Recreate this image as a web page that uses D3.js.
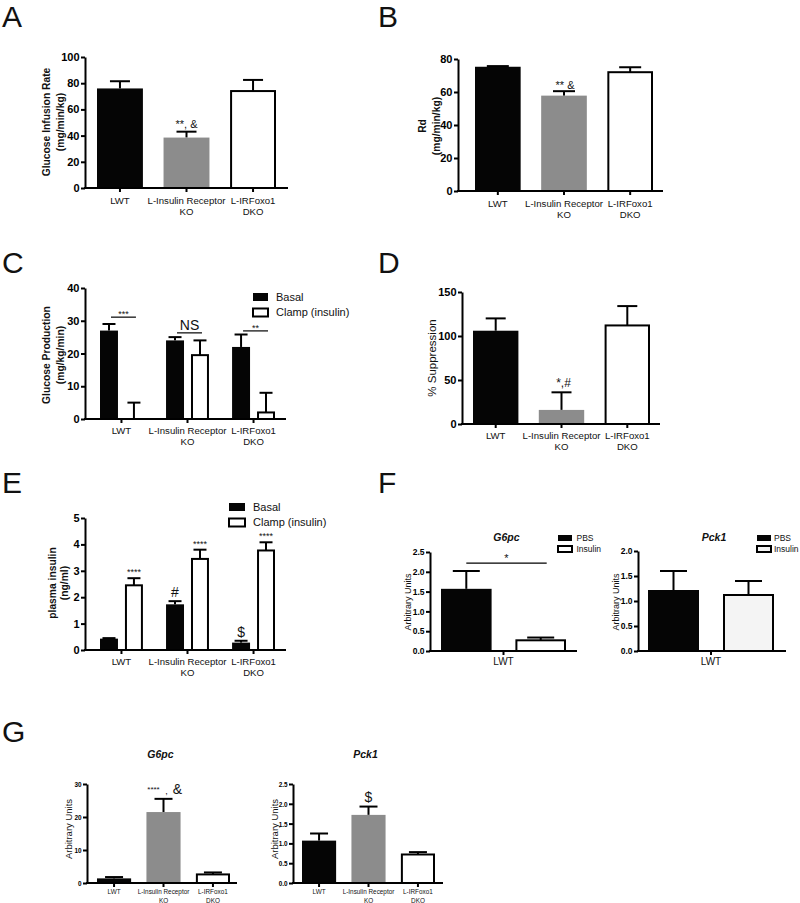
<!DOCTYPE html>
<html>
<head>
<meta charset="utf-8">
<script src="https://cdn.jsdelivr.net/npm/d3@7/dist/d3.min.js"></script>
<style>
  body { margin: 0; background: #fff; }
  svg { font-family: "Liberation Sans", Arial, sans-serif; }
</style>
</head>
<body>
<svg id="fig" width="800" height="903"></svg>
<script>
// ---- data ----
var groups = ['LWT', 'L-Insulin Receptor\nKO', 'L-IRFoxo1\nDKO'];
var conds = ['Basal', 'Clamp (insulin)'];
var treats = ['PBS', 'Insulin'];

var girMean = [76, 38.5, 74], girErr = [5.5, 4.5, 8.5];
var rdMean = [75.3, 57.8, 72], rdErr = [0.4, 2.7, 3];
var egpBasal = [27, 24, 22], egpBasalErr = [2, 1, 3.8];
var egpClamp = [0, 19.5, 2], egpClampErr = [5, 4.5, 6];
var suppMean = [106, 16, 112], suppErr = [14, 20, 22];
var insBasal = [0.43, 1.73, 0.28], insBasalErr = [0.02, 0.12, 0.07];
var insClamp = [2.45, 3.45, 3.77], insClampErr = [0.27, 0.35, 0.31];
var fG6pc = [1.57, 0.27], fG6pcErr = [0.45, 0.07];
var fPck1 = [1.22, 1.12], fPck1Err = [0.38, 0.28];
var gG6pc = [1.4, 21.5, 2.6], gG6pcErr = [0.4, 4, 0.6];
var gPck1 = [1.07, 1.72, 0.72], gPck1Err = [0.18, 0.21, 0.06];

var BLACK = '#050505', GRAY = '#8c8c8c', WHITE = '#fff';
var FONT = '"Liberation Sans", Arial, sans-serif';

var svg = d3.select('#fig');

function yaxis(y, x0, step, fmt, fs, sx) {
  var ticks = d3.range(0, y.domain()[1] + step / 2, step);
  var g = svg.append('g')
    .attr('transform', 'translate(' + x0 + ',0)')
    .call(d3.axisLeft(y).tickValues(ticks).tickFormat(fmt)
      .tickSize(4).tickSizeOuter(0).tickPadding(1.5));
  g.attr('font-family', FONT).attr('font-size', fs);
  g.select('.domain').attr('stroke', '#000').attr('stroke-width', 2);
  g.selectAll('.tick line').attr('stroke', '#000').attr('stroke-width', 2);
  var t = g.selectAll('.tick text').attr('font-weight', 'bold').attr('fill', '#000');
  if (sx) t.attr('transform', 'translate(-5.5,0) scale(' + sx + ',1) translate(5.5,0)');
}

function xaxis(x0, x1, y0, centers, labels, fs, dy, lh, sx) {
  svg.append('line').attr('x1', x0 - 1).attr('x2', x1).attr('y1', y0).attr('y2', y0)
    .attr('stroke', '#000').attr('stroke-width', 2);
  svg.selectAll(null).data(centers).enter().append('line')
    .attr('x1', function (d) { return d; }).attr('x2', function (d) { return d; })
    .attr('y1', y0).attr('y2', y0 + 4)
    .attr('stroke', '#000').attr('stroke-width', 2);
  var t = svg.selectAll(null).data(labels).enter().append('text')
    .attr('text-anchor', 'middle').attr('font-size', fs).attr('fill', '#111')
    .attr('transform', function (d, i) {
      return 'translate(' + centers[i] + ',' + (y0 + dy) + ') scale(' + (sx || 1) + ',1)';
    });
  t.selectAll('tspan').data(function (d) { return d.split('\n'); }).enter().append('tspan')
    .attr('x', 0).attr('y', function (d, i) { return i * lh; }).text(function (d) { return d; });
}

function bars(xs, bw, y, vals, errs, fills, capW) {
  var data = vals.map(function (v, i) { return { x: xs[i], v: v, e: errs[i], f: fills[i] }; });
  svg.selectAll(null).data(data).enter().append('line')
    .attr('x1', function (d) { return d.x + bw / 2; }).attr('x2', function (d) { return d.x + bw / 2; })
    .attr('y1', function (d) { return y(d.v); }).attr('y2', function (d) { return y(d.v + d.e); })
    .attr('stroke', '#000').attr('stroke-width', 2);
  svg.selectAll(null).data(data).enter().append('line')
    .attr('x1', function (d) { return d.x + bw / 2 - capW / 2; })
    .attr('x2', function (d) { return d.x + bw / 2 + capW / 2; })
    .attr('y1', function (d) { return y(d.v + d.e); }).attr('y2', function (d) { return y(d.v + d.e); })
    .attr('stroke', '#000').attr('stroke-width', 2);
  svg.selectAll(null).data(data).enter().append('rect')
    .attr('x', function (d) { return d.f === BLACK || d.f === GRAY ? d.x : d.x + 1; })
    .attr('width', function (d) { return d.f === BLACK || d.f === GRAY ? bw : bw - 2; })
    .attr('y', function (d) { return y(d.v); })
    .attr('height', function (d) { return Math.max(0, y(0) - y(d.v)); })
    .attr('fill', function (d) { return d.f; })
    .attr('stroke', function (d) { return d.f === BLACK || d.f === GRAY ? 'none' : '#000'; })
    .attr('stroke-width', 2);
}

function ytitle(lines, x, cy, fs, weight, gap) {
  lines.forEach(function (s, i) {
    svg.append('text').attr('transform', 'translate(' + (x + i * gap) + ',' + cy + ') rotate(-90)')
      .attr('text-anchor', 'middle').attr('font-size', fs).attr('font-weight', weight)
      .attr('fill', '#111').text(s);
  });
}

function label(s, x, y, fs, extra) {
  var t = svg.append('text').attr('x', x).attr('y', y).attr('font-size', fs)
    .attr('text-anchor', 'middle').attr('fill', '#111').text(s);
  if (extra) t.attr('font-weight', 'bold').attr('font-style', 'italic');
  return t;
}

function letter(s, x, y) {
  svg.append('text').attr('x', x).attr('y', y).attr('font-size', 30).attr('fill', '#111').text(s);
}

function legend(x, y, names, fills, fs, w, h, gap, tx) {
  names.forEach(function (n, i) {
    svg.append('rect').attr('x', x).attr('y', y + i * gap).attr('width', w).attr('height', h)
      .attr('fill', fills[i]).attr('stroke', '#000').attr('stroke-width', fills[i] === BLACK ? 0 : 2);
    svg.append('text').attr('x', x + w + tx).attr('y', y + i * gap + h / 2 + fs * 0.36)
      .attr('font-size', fs).attr('fill', '#111').text(n);
  });
}

function sigline(xa, xb, yy) {
  svg.append('line').attr('x1', xa).attr('x2', xb).attr('y1', yy).attr('y2', yy)
    .attr('stroke', '#000').attr('stroke-width', 1.2);
}

var grpFill = [BLACK, GRAY, WHITE];
var fmtInt = d3.format('d'), fmt1 = d3.format('.1f');

// ---- panel A ----
(function () {
  var y = d3.scaleLinear().domain([0, 100]).range([188, 57]);
  var x = d3.scaleBand().domain(groups).range([97, 276]).paddingInner(0.31);
  bars(groups.map(x), x.bandwidth(), y, girMean, girErr, grpFill, 20);
  yaxis(y, 85, 20, fmtInt, 11);
  xaxis(85, 288, y(0), groups.map(function (g) { return x(g) + x.bandwidth() / 2; }), groups, 9.6, 16, 11);
  ytitle(['Glucose Infusion Rate', '(mg/min/kg)'], 50, 122, 10.3, 'bold', 14);
  label('**, &', x(groups[1]) + x.bandwidth() / 2, y(girMean[1] + girErr[1]) - 4, 11);
  letter('A', 2, 27);
})();

// ---- panel B ----
(function () {
  var y = d3.scaleLinear().domain([0, 80]).range([191, 59]);
  var x = d3.scaleBand().domain(groups).range([475, 653]).paddingInner(0.31);
  bars(groups.map(x), x.bandwidth(), y, rdMean, rdErr, grpFill, 22);
  yaxis(y, 458, 20, fmtInt, 11);
  xaxis(458, 663, y(0), groups.map(function (g) { return x(g) + x.bandwidth() / 2; }), groups, 9.6, 16, 11);
  ytitle(['Rd', '(mg/min/kg)'], 426, 126, 10.3, 'bold', 14);
  label('** &', x(groups[1]) + x.bandwidth() / 2 + 1, y(rdMean[1] + rdErr[1]) - 2, 11);
  letter('B', 378, 27);
})();

// ---- panel C ----
(function () {
  var y = d3.scaleLinear().domain([0, 40]).range([419, 288]);
  var x = d3.scaleBand().domain(groups).range([100, 275]).paddingInner(0.35);
  var xs = d3.scaleBand().domain(conds).range([0, x.bandwidth()]).paddingInner(0.28);
  var bw = xs.bandwidth();
  bars(groups.map(function (g) { return x(g) + xs(conds[0]); }), bw, y, egpBasal, egpBasalErr, [BLACK, BLACK, BLACK], 13);
  bars(groups.map(function (g) { return x(g) + xs(conds[1]); }), bw, y, egpClamp, egpClampErr, [WHITE, WHITE, WHITE], 13);
  yaxis(y, 85, 10, fmtInt, 11);
  xaxis(85, 286, y(0), groups.map(function (g) { return x(g) + x.bandwidth() / 2; }), groups, 9.6, 15, 11);
  ytitle(['Glucose Production', '(mg/kg/min)'], 50, 355, 10.3, 'bold', 14);
  legend(253, 293, conds, [BLACK, WHITE], 11, 15, 8, 15.5, 8);
  var sig = [{ t: '***', v: 31.1, fs: 9 }, { t: 'NS', v: 26.3, fs: 14 }, { t: '**', v: 26.9, fs: 9 }];
  sig.forEach(function (s, i) {
    var a = x(groups[i]) + xs(conds[0]) + bw / 2 + 2, b = x(groups[i]) + xs(conds[1]) + bw / 2 + 2;
    sigline(a, b, y(s.v));
    label(s.t, (a + b) / 2, y(s.v) - (s.fs > 10 ? 3 : 0), s.fs);
  });
  letter('C', 2, 273);
})();

// ---- panel D ----
(function () {
  var y = d3.scaleLinear().domain([0, 150]).range([424, 292]);
  var x = d3.scaleBand().domain(groups).range([473, 650]).paddingInner(0.31);
  bars(groups.map(x), x.bandwidth(), y, suppMean, suppErr, grpFill, 20);
  yaxis(y, 462, 50, fmtInt, 11);
  xaxis(462, 660, y(0), groups.map(function (g) { return x(g) + x.bandwidth() / 2; }), groups, 9.6, 15, 11);
  ytitle(['% Suppression'], 436, 358, 11.5, 'normal', 0);
  label('*,#', x(groups[1]) + x.bandwidth() / 2 + 2, y(suppMean[1] + suppErr[1]) - 5, 12);
  letter('D', 378, 273);
})();

// ---- panel E ----
(function () {
  var y = d3.scaleLinear().domain([0, 5]).range([650, 518]);
  var x = d3.scaleBand().domain(groups).range([100, 275]).paddingInner(0.35);
  var xs = d3.scaleBand().domain(conds).range([0, x.bandwidth()]).paddingInner(0.28);
  var bw = xs.bandwidth();
  bars(groups.map(function (g) { return x(g) + xs(conds[0]); }), bw, y, insBasal, insBasalErr, [BLACK, BLACK, BLACK], 13);
  bars(groups.map(function (g) { return x(g) + xs(conds[1]); }), bw, y, insClamp, insClampErr, [WHITE, WHITE, WHITE], 13);
  yaxis(y, 85, 1, fmtInt, 11);
  xaxis(85, 286, y(0), groups.map(function (g) { return x(g) + x.bandwidth() / 2; }), groups, 9.6, 15, 11);
  ytitle(['plasma insulin', '(ng/ml)'], 56, 583, 10.3, 'bold', 12);
  legend(229, 503, conds, [BLACK, WHITE], 11, 16, 8, 15.5, 8);
  groups.forEach(function (g, i) {
    label('****', x(g) + xs(conds[1]) + bw / 2, y(insClamp[i] + insClampErr[i]) - 3, 9);
  });
  label('#', x(groups[1]) + xs(conds[0]) + bw / 2, y(insBasal[1] + insBasalErr[1]) - 4, 14);
  label('$', x(groups[2]) + xs(conds[0]) + bw / 2, y(insBasal[2] + insBasalErr[2]) - 4, 14);
  letter('E', 2, 493);
})();

// ---- panel F ----
function fPanel(x0, x1, top, max, xr, vals, errs, fills, title, legX, legTx, sig) {
  var y = d3.scaleLinear().domain([0, max]).range([651, top]);
  var xs = d3.scaleBand().domain(treats).range(xr).paddingInner(0.32);
  var bw = xs.bandwidth();
  bars(treats.map(xs), bw, y, vals, errs, fills, 27);
  yaxis(y, x0, 0.5, fmt1, 8.5);
  xaxis(x0, x1, y(0), [(xr[0] + xr[1]) / 2], ['LWT'], 10, 14, 11);
  ytitle(['Arbitrary Units'], x0 - 19, 602, 9, 'normal', 0);
  label(title, (xr[0] + xr[1]) / 2 + 3, 541, 10.5, true);
  legend(legX, 535, treats, [BLACK, fills[1]], 8.5, 14, 6, 11, legTx);
  if (sig) {
    var a = xs(treats[0]) + bw / 2, b = xs(treats[1]) + bw / 2 + 6;
    sigline(a, b, y(sig));
    label('*', (a + b) / 2, y(sig) - 1, 11);
  }
}
fPanel(430, 577, 552, 2.5, [441, 566], fG6pc, fG6pcErr, [BLACK, WHITE], 'G6pc', 558, 4.5, 2.22);
fPanel(638, 786, 551, 2.0, [648, 774], fPck1, fPck1Err, [BLACK, '#f4f4f4'], 'Pck1', 757, 3, null);
letter('F', 378, 493);

// ---- panel G ----
function gPanel(x0, x1, max, step, fmt, xr, vals, errs, title) {
  var y = d3.scaleLinear().domain([0, max]).range([883, 784]);
  var x = d3.scaleBand().domain(groups).range(xr).paddingInner(0.31);
  bars(groups.map(x), x.bandwidth(), y, vals, errs, grpFill, 18);
  yaxis(y, x0, step, fmt, 7.5, 0.85);
  xaxis(x0, x1, y(0), groups.map(function (g) { return x(g) + x.bandwidth() / 2; }), groups, 7.5, 11, 9, 0.85);
  ytitle(['Arbitrary Units'], x0 - 15, 829, 9.5, 'normal', 0);
  label(title, (xr[0] + xr[1]) / 2 - 3, 758, 10.5, true);
  return { x: x, y: y };
}
var gl = gPanel(87, 237, 30, 10, fmtInt, [97, 230], gG6pc, gG6pcErr, 'G6pc');
var cx = gl.x(groups[1]) + gl.x.bandwidth() / 2;
var ty = gl.y(gG6pc[1] + gG6pcErr[1]) - 5;
label('****', cx - 10, ty - 2, 8);
label(',', cx + 3, ty, 9);
label('&', cx + 14, ty, 14);
var gr = gPanel(293, 443, 2.5, 0.5, fmt1, [302, 435], gPck1, gPck1Err, 'Pck1');
label('$', gr.x(groups[1]) + gr.x.bandwidth() / 2, gr.y(gPck1[1] + gPck1Err[1]) - 5, 14);
letter('G', 2, 742);
</script>
</body>
</html>
